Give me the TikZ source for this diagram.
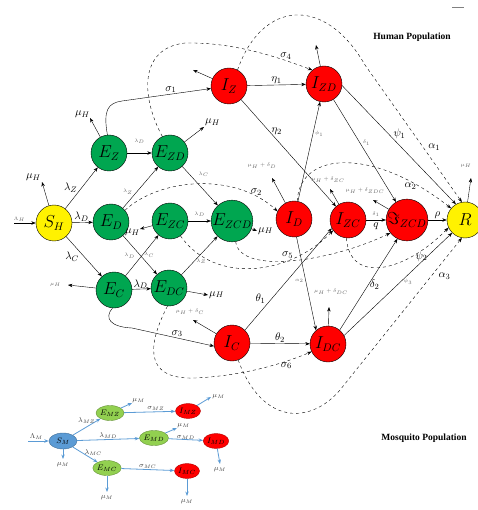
\documentclass[tikz,border=0pt]{standalone}
\usepackage{fontspec}
\setmainfont{Liberation Serif}
\usetikzlibrary{arrows.meta,shapes.geometric}

\definecolor{hgreen}{RGB}{0,166,80}
\definecolor{mblue}{RGB}{91,155,213}
\definecolor{mgreen}{RGB}{146,208,80}

\begin{document}
\begin{tikzpicture}[x=1pt,y=-1pt,>={Stealth[length=4.5pt,width=3.4pt]},
    comp/.style={circle,draw,line width=0.4pt,minimum size=36pt,inner sep=0pt,font=\fontsize{16}{16}\selectfont},
    hgrn/.style={comp,fill=hgreen},
    hred/.style={comp,fill=red},
    hyel/.style={comp,fill=yellow},
    lab/.style={inner sep=1pt,font=\fontsize{11}{12}\selectfont},
    lbls/.style={inner sep=1pt,font=\tiny,text=black!60},
    mcomp/.style={ellipse,draw,minimum width=25pt,minimum height=15pt,inner sep=0pt,font=\footnotesize},
    mblu/.style={mcomp,fill=mblue,draw=mblue!70!black,minimum width=28pt,minimum height=16pt},
    mgrn/.style={mcomp,fill=mgreen,draw=mgreen!70!black},
    mred/.style={mcomp,fill=red,draw=red!70!black},
    marr/.style={->,draw=mblue,line width=0.8pt},
    mlab/.style={inner sep=1pt,font=\scriptsize,text=black!75},
    title/.style={font=\bfseries\fontsize{9.5}{10}\selectfont}]
  \useasboundingbox (0,0) rectangle (477,510);

  % human compartments
  \node[hyel] (sh)   at ( 54,223) {$S_H$};
  \node[hgrn] (ez)   at (109,153) {$E_Z$};
  \node[hgrn] (ed)   at (111,222) {$E_D$};
  \node[hgrn] (ec)   at (114,290) {$E_C$};
  \node[hgrn] (ezd)  at (170,153) {$E_{ZD}$};
  \node[hgrn] (ezc)  at (170,221) {$E_{ZC}$};
  \node[hgrn] (ezcd) at (232,221) {$E_{ZCD}$};
  \node[hgrn] (edc)  at (169,288) {$E_{DC}$};
  \node[hred] (iz)   at (229, 86) {$I_Z$};
  \node[hred] (izd)  at (324, 84) {$I_{ZD}$};
  \node[hred] (id)   at (294,219) {$I_D$};
  \node[hred] (izc)  at (348,220) {$I_{ZC}$};
  \node[hred] (jzcd) at (407,220) {$\Im_{ZCD}$};
  \node[hyel] (r)    at (465,220) {$R$};
  \node[hred] (ic)   at (232,343) {$I_C$};
  \node[hred] (idc)  at (328,344) {$I_{DC}$};

  \node[title] (hp) at (412,37) {Human Population};
  \draw[gray] (452,7) -- (464,7);

  % free ends
  \coordinate (lamH) at ( 14,223);
  \coordinate (mu1)  at ( 42,182);
  \coordinate (mu2)  at ( 90,118);
  \coordinate (mu3)  at ( 68,285);
  \coordinate (mu4)  at (204,127);
  \coordinate (mu5)  at (140,229);
  \coordinate (mu6)  at (257,231);
  \coordinate (mu7)  at (208,295);
  \coordinate (d1)   at (193, 70);
  \coordinate (d2)   at (316, 45);
  \coordinate (d3)   at (272,178);
  \coordinate (d4)   at (330,189);
  \coordinate (d5)   at (373,200);
  \coordinate (d6)   at (193,320);
  \coordinate (d7)   at (329,307);
  \coordinate (d8)   at (471,178);

  \draw [->] (lamH) to node[lbls,pos=.25,above] {$\Lambda_H$} (sh);
  \draw [->] (sh) to (mu1) node[lab,above left] {$\mu_H$};
  \draw [->] (sh) to node[lab,pos=.5,left=3pt] {$\lambda_Z$} (ez);
  \draw [->] (sh) to node[lab,pos=.45,above] {$\lambda_D$} (ed);
  \draw [->] (sh) to node[lab,pos=.5,left=4pt] {$\lambda_C$} (ec);
  \draw [->] (ez) to (mu2) node[lab,above left=-1pt] {$\mu_H$};
  \draw [->] (ez) to node[lbls,above=8pt] {$\lambda_D$} (ezd);
  \draw [->] (ed) to node[lbls,pos=.4,left=3pt] {$\lambda_Z$} (ezd);
  \draw [->] (ed) to node[lbls,pos=.5,right=3pt] {$\lambda_C$} (edc);
  \draw [->] (ec) to node[lbls,pos=.5,left=6pt] {$\lambda_D$} (ezc);
  \draw [->] (ec) to (mu3) node[lbls,left=6pt] {$\mu_H$};
  \draw [->] (ec) to node[lab,pos=.45,above=-1pt] {$\lambda_D$} (edc);
  \draw [->] (ezd) to (mu4) node[lab,above right] {$\mu_H$};
  \draw [->] (ezd) to node[lbls,pos=.2,right=8pt] {$\lambda_C$} (ezcd);
  \draw [->] (ezc) to (mu5) node[lab,below left=-1pt] {$\mu_H$};
  \draw [->] (ezc) to node[lbls,above=3pt] {$\lambda_D$} (ezcd);
  \draw [->] (edc) to node[lbls,pos=.35,right=1pt] {$\lambda_Z$} (ezcd);
  \draw [->] (ezcd) to (mu6) node[lab,right] {$\mu_H$};
  \draw [->] (edc) to (mu7) node[lab,right] {$\mu_H$};

  % progression to infection
  \draw [->] (ez.95) .. controls (103,110) and (108,103) .. (122,101)
     -- (iz.188) node[lab,pos=.55,above] {$\sigma_1$};
  \draw [->] (ec.-95) .. controls (104,318) and (110,327) .. (132,328)
     -- (ic.190) node[lab,pos=.55,above] {$\sigma_3$};
  \draw [->,dashed] (ezd.115) .. controls (140,95) and (140,48) .. (185,43)
     .. controls (235,42) and (280,58) .. (izd.130) node[lab,pos=.75,above] {$\sigma_4$};
  \draw [->,dashed] (ed.40) .. controls (160,178) and (235,172) .. (id.155)
     node[lab,pos=.85,above] {$\sigma_2$};
  \draw [->,dashed] (ezc.-55) .. controls (215,285) and (290,275) .. (izc.215)
     node[lab,pos=.7,above=1pt] {$\sigma_5$};
  \draw [->,dashed] (ezcd.-80) .. controls (240,275) and (330,262) .. (jzcd.218);
  \draw [->,dashed] (edc.-95) .. controls (150,340) and (140,380) .. (195,378)
     .. controls (240,376) and (280,365) .. (idc.205) node[lab,pos=.75,below] {$\sigma_6$};

  % infected classes
  \draw [->] (iz) to (d1);
  \draw [->] (iz) to node[lab,above] {$\eta_1$} (izd);
  \draw [->] (iz) to node[lab,pos=.3,right=1pt] {$\eta_2$} (izc);
  \draw [->] (izd) to (d2);
  \draw [->] (id) to node[lbls,pos=.68,right=1pt] {$\phi_1$} (izd);
  \draw [->] (izd) to node[lbls,pos=.42,right=2pt] {$\delta_1$} (jzcd);
  \draw [->] (izd.-5) to node[lab,pos=.45,above right=-1pt] {$\psi_1$} (r.120);
  \draw [->] (id) to (d3);
  \node[lbls] (lmd) at (262,166) {$\mu_H+\delta_D$};
  \draw [->] (id.-82) to node[lbls,pos=.47,left=1pt] {$\alpha_2$} (idc.131);
  \draw [->] (izc) to (d4);
  \node[lbls] (lmzc) at (328,180) {$\mu_H+\delta_{ZC}$};
  \draw [->] (izc) to node[lbls,above=2pt] {$\delta_1$} node[lab,below=2pt] {$q$} (jzcd);
  \draw [->] (jzcd) to (d5);
  \node[lbls] (lmzdc) at (365,191) {$\mu_H+\delta_{ZDC}$};
  \draw [->] (jzcd) to node[lab,above] {$\rho$} (r);
  \draw [->] (r) to (d8);
  \node[lbls] (lmr) at (466,166) {$\mu_H$};
  \draw [->] (ic) to (d6);
  \node[lbls] (lmc) at (190,312) {$\mu_H+\delta_C$};
  \draw [->] (ic) to node[lab,above] {$\theta_2$} (idc);
  \draw [->] (ic.45) to node[lab,pos=.25,above left] {$\theta_1$} (izc.207);
  \draw [->] (idc) to (d7);
  \node[lbls] (lmdc) at (331,292) {$\mu_H+\delta_{DC}$};
  \draw [->] (idc.50) to node[lab,pos=.5,right=0pt] {$\delta_2$} (jzcd.243);
  \draw [->] (idc.28) to node[lbls,pos=.55,below right=-1pt] {$\psi_3$} (r.225);

  % recovery
  \draw [->,dashed] (iz.62) .. controls (262,0) and (325,-5) .. (365,65)
     -- (r.100) node[lab,pos=.6,right=4pt] {$\alpha_1$};
  \draw [->,dashed] (id.80) .. controls (300,150) and (375,148) .. (r.140)
     node[lab,pos=.82,below] {$\alpha_2$};
  \draw [->,dashed] (izc.-95) .. controls (350,285) and (405,272) .. (r.205)
     node[lab,pos=.8,below] {$\psi_2$};
  \draw [->,dashed] (ic.-70) .. controls (262,425) and (310,425) .. (340,390)
     -- (r.-100) node[lab,pos=.75,right=6pt] {$\alpha_3$};

  % mosquito compartments
  \node[mblu] (sm)  at ( 63,441) {$S_M$};
  \node[mgrn] (emz) at (110,413) {$E_{MZ}$};
  \node[mred] (imz) at (188,411) {$I_{MZ}$};
  \node[mgrn] (emd) at (154,438) {$E_{MD}$};
  \node[mred] (imd) at (216,441) {$I_{MD}$};
  \node[mgrn] (emc) at (107,468) {$E_{MC}$};
  \node[mred] (imc) at (187,471) {$I_{MC}$};

  \node[title] (mp) at (424,438) {Mosquito Population};

  \coordinate (lamM) at ( 28,441);
  \coordinate (m1)   at ( 63,459);
  \coordinate (m2)   at (132,403);
  \coordinate (m3)   at (211,397);
  \coordinate (m4)   at (177,428);
  \coordinate (m5)   at (220,464);
  \coordinate (m6)   at (107,492);
  \coordinate (m7)   at (187,496);

  \draw [marr] (lamM) to node[mlab,pos=.4,above] {$\Lambda_M$} (sm);
  \draw [marr] (sm) to node[mlab,pos=.5,above=2pt] {$\lambda_{MZ}$} (emz);
  \draw [marr] (sm) to node[mlab,pos=.5,above] {$\lambda_{MD}$} (emd);
  \draw [marr] (sm) to node[mlab,pos=.5,above right=-2pt] {$\lambda_{MC}$} (emc);
  \draw [marr] (sm) to (m1) node[mlab,below=2pt] {$\mu_M$};
  \draw [marr] (emz) to (m2) node[mlab,above right=-1pt] {$\mu_M$};
  \draw [marr] (emz) to node[mlab,pos=.62,above] {$\sigma_{MZ}$} (imz);
  \draw [marr] (imz) to (m3) node[mlab,right] {$\mu_M$};
  \draw [marr] (emd) to (m4) node[mlab,above right=-1pt] {$\mu_M$};
  \draw [marr] (emd) to node[mlab,pos=.5,above=-1pt] {$\sigma_{MD}$} (imd);
  \draw [marr] (imd) to (m5) node[mlab,below=2pt] {$\mu_M$};
  \draw [marr] (emc) to (m6) node[mlab,below=2pt] {$\mu_M$};
  \draw [marr] (emc) to node[mlab,above] {$\sigma_{MC}$} (imc);
  \draw [marr] (imc) to (m7) node[mlab,below=2pt] {$\mu_M$};
\end{tikzpicture}
\end{document}
